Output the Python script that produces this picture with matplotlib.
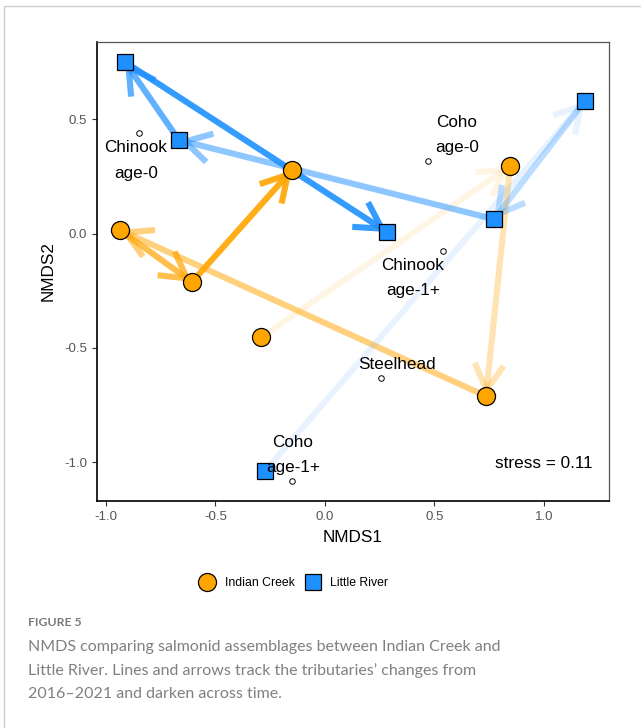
import matplotlib
matplotlib.use('Agg')
import matplotlib.pyplot as plt
from matplotlib.lines import Line2D
from matplotlib.patches import Rectangle

# ---- data ----
years = [2016, 2017, 2018, 2019, 2020, 2021]
ic_x = [-0.290, 0.845, 0.735, -0.936, -0.607, -0.151]
ic_y = [-0.453, 0.295, -0.711, 0.015, -0.212, 0.278]
lr_x = [-0.274, 1.187, 0.772, -0.667, -0.913, 0.283]
lr_y = [-1.039, 0.580, 0.063, 0.409, 0.750, 0.007]
step_alpha = [0.1, 0.3, 0.5, 0.7, 0.9]

species = ['Chinook\nage-0', 'Coho\nage-0', 'Chinook\nage-1+', 'Steelhead', 'Coho\nage-1+']
sp_x = [-0.849, 0.470, 0.539, 0.256, -0.151]
sp_y = [0.440, 0.317, -0.077, -0.632, -1.083]
lab_x = [-0.863, 0.603, 0.402, 0.329, -0.146]
lab_y = [0.320, 0.431, -0.195, -0.571, -0.969]

stress_text = 'stress = 0.11'
xticks = [-1.0, -0.5, 0.0, 0.5, 1.0]
yticks = [-1.0, -0.5, 0.0, 0.5]

IC_COL = '#FFA500'
LR_COL = '#1E90FF'
FONT = 'Liberation Sans'

fig = plt.figure(figsize=(6.41, 7.28), dpi=100)
fig.patch.set_facecolor('white')

# figure frame
fig.patches.append(Rectangle((4/641, -0.1), 1.2, 1 - 6/728 + 0.1, transform=fig.transFigure,
                             fill=False, edgecolor='#cccccc', lw=1.0, zorder=-1))

ax = fig.add_axes([97/641, 1 - 501/728, (609 - 97)/641, (501 - 42)/728])
ax.set_xlim(-1.041, 1.297)
ax.set_ylim(-1.170, 0.838)


def draw_path(xs, ys, col):
    n = len(xs) - 1
    for i in range(n):
        ax.annotate('', xy=(xs[i + 1], ys[i + 1]), xytext=(xs[i], ys[i]),
                    arrowprops=dict(arrowstyle='->,head_length=1.85,head_width=1.05',
                                    mutation_scale=10, lw=4.4, color=col,
                                    alpha=step_alpha[i], shrinkA=0, shrinkB=0,
                                    capstyle='butt', joinstyle='miter'),
                    zorder=2)


draw_path(ic_x, ic_y, IC_COL)
draw_path(lr_x, lr_y, LR_COL)

ax.plot(ic_x, ic_y, 'o', ls='none', ms=13, mfc=IC_COL, mec='black', mew=0.9, zorder=5)
ax.plot(lr_x, lr_y, 's', ls='none', ms=11.5, mfc=LR_COL, mec='black', mew=0.9, zorder=5)

ax.plot(sp_x, sp_y, 'o', ls='none', ms=4, mfc='white', mec='black', mew=0.7, zorder=4)
for s, lx, ly in zip(species, lab_x, lab_y):
    ax.text(lx, ly, s, ha='center', va='center', fontsize=12.3, linespacing=1.85,
            family=FONT, color='black', zorder=6)

ax.text(1.224, -1.004, stress_text, ha='right', va='center', fontsize=12.3,
        family=FONT, color='black')

ax.set_xticks(xticks)
ax.set_yticks(yticks)
ax.set_xticklabels([f'{t:.1f}' for t in xticks])
ax.set_yticklabels([f'{t:.1f}' for t in yticks])
ax.tick_params(axis='both', direction='out', length=3.5, width=0.8, color='#333333',
               labelsize=9.5, labelcolor='#555555')
for lab in ax.get_xticklabels() + ax.get_yticklabels():
    lab.set_family(FONT)
ax.set_xlabel('NMDS1', fontsize=12.3, family=FONT, labelpad=5)
ax.set_ylabel('NMDS2', fontsize=12.3, family=FONT, labelpad=6)

for side in ['left', 'bottom']:
    ax.spines[side].set_color('black')
    ax.spines[side].set_linewidth(1.2)
for side in ['top', 'right']:
    ax.spines[side].set_color('#555555')
    ax.spines[side].set_linewidth(0.9)

# legend
handles = [Line2D([], [], marker='o', ls='none', ms=13, mfc=IC_COL, mec='black', mew=0.9),
           Line2D([], [], marker='s', ls='none', ms=12, mfc=LR_COL, mec='black', mew=0.9)]
fig.legend(handles, ['Indian Creek', 'Little River'], loc='center', ncol=2,
           bbox_to_anchor=(294/641, 1 - 583/728), frameon=False,
           prop={'family': FONT, 'size': 8.8}, handletextpad=0.8, columnspacing=0.9,
           handlelength=1.2)

# caption
CAP_COL = '#808080'
fig.text(28/641, 1 - 623/728, 'FIGURE 5', fontsize=8.8, family='Lato',
         fontweight='bold', color='#7a7a7a', ha='left', va='center')
cap_lines = ['NMDS comparing salmonid assemblages between Indian Creek and',
             'Little River. Lines and arrows track the tributaries\u2019 changes from',
             '2016\u20132021 and darken across time.']
for i, line in enumerate(cap_lines):
    fig.text(28/641, 1 - (647 + 23.5*i)/728, line, fontsize=11.5, family='Lato',
             fontweight='normal', color=CAP_COL, ha='left', va='center')

fig.savefig('out.png', dpi=100, facecolor='white')
